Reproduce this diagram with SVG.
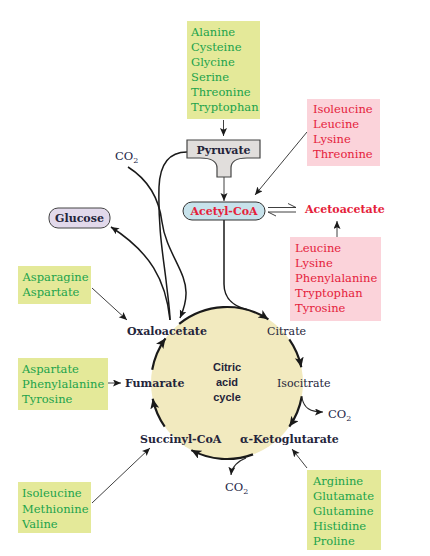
<svg xmlns="http://www.w3.org/2000/svg" width="430" height="556" viewBox="0 0 430 556">
<style>
.gbox{fill:#e4e999;}
.pbox{fill:#fbd3da;}
.aa{font-family:"DejaVu Serif","Liberation Serif",serif;font-size:11.5px;}
.g{fill:#21a34b;}
.r{fill:#e5213a;}
.cmp{font-family:"DejaVu Serif","Liberation Serif",serif;font-size:11px;font-weight:bold;fill:#24243a;}
.red{fill:#e5213a;}
.co2{font-family:"DejaVu Serif","Liberation Serif",serif;font-size:11.5px;fill:#1d2645;}
.sub{font-size:8px;}
.thin{fill:none;stroke:#2a2a2a;stroke-width:0.9;}
.mid{fill:none;stroke:#1a1a1a;stroke-width:1.5;}
.arc{fill:none;stroke:#1a1a1a;stroke-width:2.2;}
.cyc{font-family:"Liberation Sans",Arial,sans-serif;font-size:11px;font-weight:bold;fill:#24243a;}
</style>
<defs>
<marker id="ah" markerUnits="userSpaceOnUse" markerWidth="10" markerHeight="8" refX="8" refY="3.5" orient="auto">
<path d="M0,0 L8,3.5 L0,7 L1.8,3.5 Z" fill="#1a1a1a"/>
</marker>
<marker id="ahb" markerUnits="userSpaceOnUse" markerWidth="12" markerHeight="10" refX="10" refY="4.5" orient="auto">
<path d="M0,0 L10,4.5 L0,9 L2.5,4.5 Z" fill="#1a1a1a"/>
</marker>
</defs>
<rect width="430" height="556" fill="#ffffff"/>

<!-- citric acid cycle circle -->
<g id="cycle">
<circle cx="227" cy="383" r="76" fill="#f2eabf"/>
<text class="cyc" text-anchor="middle"><tspan x="227" y="371">Citric</tspan><tspan x="227" y="386">acid</tspan><tspan x="227" y="401">cycle</tspan></text>
</g>

<g id="connectors">
<!-- amino acids -> pyruvate -->
<line class="thin" x1="223.5" y1="120" x2="223.5" y2="136" marker-end="url(#ah)"/>
<!-- pyruvate -> acetyl-CoA -->
<line class="thin" x1="224" y1="177" x2="224" y2="201" marker-end="url(#ah)"/>
<!-- isoleucine box -> acetyl-CoA -->
<line class="thin" x1="307" y1="132" x2="255" y2="195" marker-end="url(#ah)"/>
<!-- equilibrium harpoons -->
<path class="thin" d="M268,207.5 H296 L288,203.5"/>
<path class="thin" d="M296,212 H268 L276,216"/>
<!-- leucine box -> acetoacetate -->
<line class="thin" x1="337" y1="237" x2="337" y2="221" marker-end="url(#ah)"/>
<!-- pyruvate -> oxaloacetate -->
<path class="mid" d="M187,152 C170,152 160,162 159,187 C158,228 163,255 166,280 C168,298 170,310 170,320"/>
<!-- CO2 -> oxaloacetate -->
<path class="mid" d="M128,167 C147,179 159,198 162,222 C166,252 187,272 186,294 C186,304 183,311 180,318" marker-end="url(#ah)"/>
<!-- oxaloacetate -> glucose -->
<path class="mid" d="M170,320 C166,280 150,252 111,227" marker-end="url(#ah)"/>
<!-- asparagine -> oxaloacetate -->
<line class="thin" x1="92" y1="288" x2="127" y2="320" marker-end="url(#ah)"/>
<!-- aspartate/phe/tyr -> fumarate -->
<line class="thin" x1="108" y1="383" x2="121" y2="383" marker-end="url(#ah)"/>
<!-- isoleucine/met/val -> succinyl-CoA -->
<line class="thin" x1="92" y1="503" x2="150" y2="448" marker-end="url(#ah)"/>
<!-- arginine... -> alpha-ketoglutarate -->
<line class="thin" x1="307" y1="468" x2="292" y2="449" marker-end="url(#ah)"/>
<!-- acetyl-CoA -> citrate (merging into arc) -->
<path class="mid" d="M224,220 V284 C224,300 236,307 247,309.6"/>
<!-- cycle arcs -->
<path class="arc" d="M179.2,323.9 A76,76 0 0 1 268.4,319.3" marker-end="url(#ahb)"/>
<path class="arc" d="M289.3,339.4 A76,76 0 0 1 301.3,367.2" marker-end="url(#ahb)"/>
<path class="arc" d="M301.8,396.2 A76,76 0 0 1 289.3,426.6" marker-end="url(#ahb)"/>
<path class="arc" d="M253,454.4 A76,76 0 0 1 191.3,450.1" marker-end="url(#ahb)"/>
<path class="arc" d="M164.7,426.6 A76,76 0 0 1 152.7,398.8" marker-end="url(#ahb)"/>
<path class="arc" d="M152.2,369.8 A76,76 0 0 1 165.5,338.3" marker-end="url(#ahb)"/>
<!-- CO2 branches -->
<path class="thin" style="stroke-width:1.1" d="M302,398 C304,408 310,412 323,412" marker-end="url(#ah)"/>
<path class="thin" style="stroke-width:1.1" d="M246,458 C238,461 232,466 231,475" marker-end="url(#ah)"/>
</g>

<g id="aa-pyruvate">
<rect class="gbox" x="187" y="21" width="73" height="98"/>
<text class="aa g"><tspan x="191" y="36">Alanine</tspan><tspan x="191" y="51">Cysteine</tspan><tspan x="191" y="66">Glycine</tspan><tspan x="191" y="81">Serine</tspan><tspan x="191" y="96">Threonine</tspan><tspan x="191" y="111">Tryptophan</tspan></text>
</g>

<g id="pyruvate">
<path d="M187,140 H260 V158 H247 C236,158 231,162 231,168 V177 H217 V168 C217,162 212,158 200,158 H187 Z" fill="#e1dedc" stroke="#454545" stroke-width="1.2"/>
<text class="cmp" x="223.5" y="153.5" text-anchor="middle">Pyruvate</text>
</g>

<g id="co2-top">
<text class="co2" x="115" y="160">CO<tspan class="sub" dy="3">2</tspan></text>
</g>

<g id="acetyl-coa">
<rect x="183" y="202" width="82" height="18" rx="9" fill="#c7e2eb" stroke="#333" stroke-width="1"/>
<text class="cmp red" x="224" y="215" text-anchor="middle">Acetyl-CoA</text>
</g>

<g id="aa-acetyl">
<rect class="pbox" x="307" y="99" width="73" height="67"/>
<text class="aa r"><tspan x="313" y="113">Isoleucine</tspan><tspan x="313" y="128">Leucine</tspan><tspan x="313" y="143">Lysine</tspan><tspan x="313" y="158">Threonine</tspan></text>
</g>

<g id="acetoacetate">
<text class="cmp red" x="305" y="213">Acetoacetate</text>
</g>

<g id="aa-acetoacetate">
<rect class="pbox" x="290" y="237" width="91" height="84"/>
<text class="aa r"><tspan x="295" y="252">Leucine</tspan><tspan x="295" y="267">Lysine</tspan><tspan x="295" y="282">Phenylalanine</tspan><tspan x="295" y="297">Tryptophan</tspan><tspan x="295" y="312">Tyrosine</tspan></text>
</g>

<g id="glucose">
<rect x="49" y="208" width="61" height="20" rx="9" fill="#e2d9eb" stroke="#444" stroke-width="1"/>
<text class="cmp" x="79.5" y="222" text-anchor="middle">Glucose</text>
</g>

<g id="aa-oxaloacetate">
<rect class="gbox" x="18" y="266" width="73" height="38"/>
<text class="aa g"><tspan x="22.5" y="281">Asparagine</tspan><tspan x="22.5" y="296">Aspartate</tspan></text>
</g>

<g id="oxaloacetate"><text class="cmp" x="127" y="335">Oxaloacetate</text></g>
<g id="citrate"><text class="cmp" style="font-weight:normal" x="267" y="335">Citrate</text></g>
<g id="isocitrate"><text class="cmp" style="font-weight:normal" x="277" y="387">Isocitrate</text></g>
<g id="co2-isocitrate"><text class="co2" x="328" y="418">CO<tspan class="sub" dy="3">2</tspan></text></g>
<g id="alpha-ketoglutarate"><text class="cmp" x="240" y="443">α-Ketoglutarate</text></g>
<g id="co2-akg"><text class="co2" x="225" y="491">CO<tspan class="sub" dy="3">2</tspan></text></g>
<g id="succinyl-coa"><text class="cmp" x="140" y="443">Succinyl-CoA</text></g>
<g id="fumarate"><text class="cmp" x="125" y="387">Fumarate</text></g>

<g id="aa-fumarate">
<rect class="gbox" x="18" y="358" width="90" height="52"/>
<text class="aa g"><tspan x="22" y="373">Aspartate</tspan><tspan x="22" y="388">Phenylalanine</tspan><tspan x="22" y="403">Tyrosine</tspan></text>
</g>

<g id="aa-succinyl">
<rect class="gbox" x="18" y="482" width="73" height="51"/>
<text class="aa g"><tspan x="22" y="497">Isoleucine</tspan><tspan x="22" y="512.5">Methionine</tspan><tspan x="22" y="527.5">Valine</tspan></text>
</g>

<g id="aa-akg">
<rect class="gbox" x="307" y="470" width="74" height="80"/>
<text class="aa g"><tspan x="313" y="484.5">Arginine</tspan><tspan x="313" y="500">Glutamate</tspan><tspan x="313" y="515">Glutamine</tspan><tspan x="313" y="530">Histidine</tspan><tspan x="313" y="545">Proline</tspan></text>
</g>
</svg>
